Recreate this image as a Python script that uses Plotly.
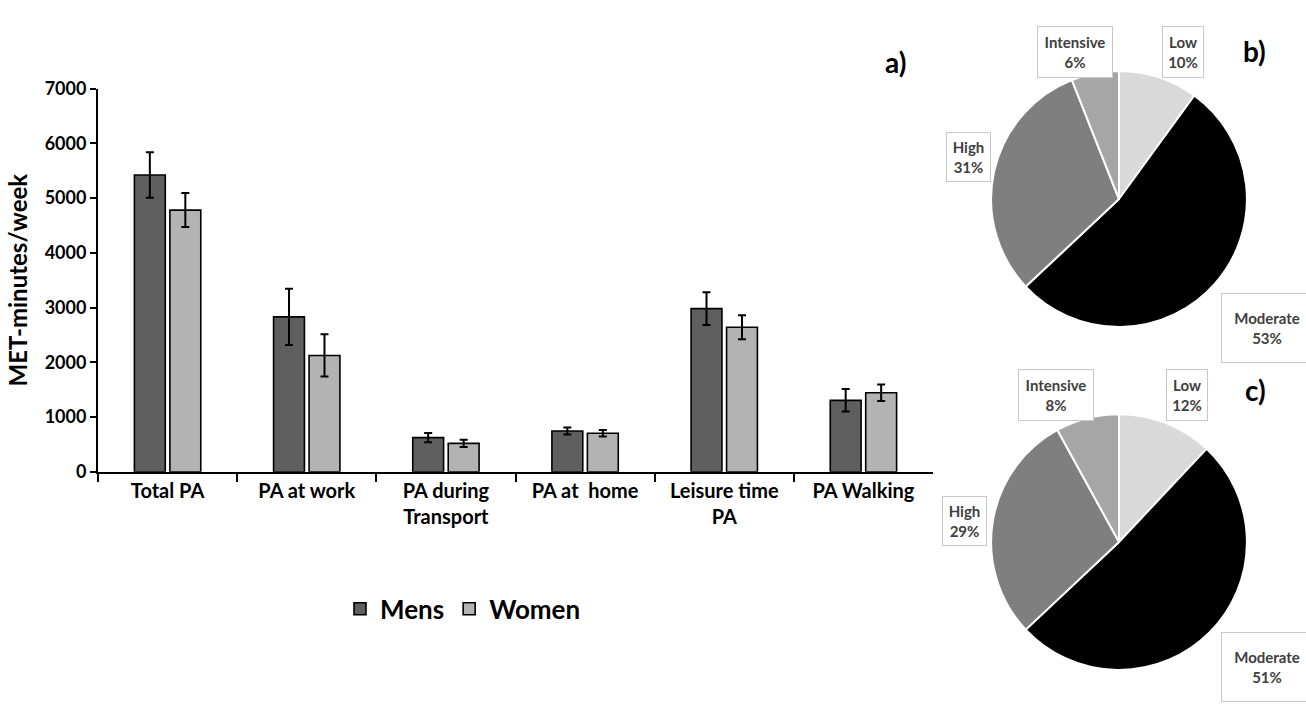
import plotly.graph_objects as go

# --- Bar panel a): MET-minutes/week by domain and sex ---
categories = ["Total PA", "PA at work", "PA during<br>Transport",
              "PA at\u00a0 home", "Leisure time<br>PA", "PA Walking"]
mens = [5420, 2830, 625, 745, 2980, 1305]
mens_err = [415, 515, 85, 65, 300, 205]
women = [4780, 2125, 520, 705, 2640, 1445]
women_err = [310, 385, 65, 60, 220, 150]

# --- Pie panels b) and c): activity level shares ---
levels = ["Low", "Moderate", "High", "Intensive"]
share_b = [10, 53, 31, 6]
share_c = [12, 51, 29, 8]
level_colors = ["#d9d9d9", "#000000", "#7f7f7f", "#a6a6a6"]

FONT = "Lato, 'Open Sans', sans-serif"
W, H = 1306, 710


def px_x(x):
    return x / W


def px_y(y):
    return (H - y) / H


fig = go.Figure()

fig.add_trace(go.Bar(
    name="Mens", x=categories, y=mens,
    marker=dict(color="#5f5f5f", line=dict(color="black", width=1.6)),
    error_y=dict(type="data", array=mens_err, color="black", thickness=2, width=4),
))
fig.add_trace(go.Bar(
    name="Women", x=categories, y=women,
    marker=dict(color="#b3b3b3", line=dict(color="black", width=1.6)),
    error_y=dict(type="data", array=women_err, color="black", thickness=2, width=4),
))

# pie centres / radius in pixels
R = 132
pie_specs = [(share_b, 1119, 193), (share_c, 1119, 547)]
for vals, cx, cy in pie_specs:
    fig.add_trace(go.Pie(
        labels=levels, values=vals, sort=False, direction="clockwise", rotation=0,
        marker=dict(colors=level_colors, line=dict(color="white", width=2)),
        textinfo="none", hoverinfo="label+percent", showlegend=False,
        domain=dict(x=[px_x(cx - R), px_x(cx + R)], y=[px_y(cy + R), px_y(cy - R)]),
    ))

annotations = []

# boxed slice labels: (centre x, centre y, box text width, box text height) in px
box_w = {"Low": 34, "Moderate": 84, "High": 37, "Intensive": 68}
box_h = {"Low": 44, "Moderate": 62, "High": 42, "Intensive": 44}
label_pos_b = [(1183, 41), (1267, 326), (968, 150), (1075, 41)]
label_pos_c = [(1187, 395), (1267, 676), (964, 525), (1056, 395)]
for vals, positions in [(share_b, label_pos_b), (share_c, label_pos_c)]:
    for name, v, (lx, ly) in zip(levels, vals, positions):
        annotations.append(dict(
            x=px_x(lx), y=px_y(ly), xref="paper", yref="paper",
            text=f"<b>{name}</b><br><b>{v}%</b>", showarrow=False,
            font=dict(family=FONT, size=15, color="#404040"),
            bgcolor="white", bordercolor="#c8c8c8", borderwidth=1, borderpad=3,
            width=box_w[name], height=box_h[name], align="center", valign="middle",
            xanchor="center", yanchor="middle",
        ))

# panel letters
for txt, lx, ly in [("a)", 895, 52), ("b)", 1254, 40), ("c)", 1255, 390)]:
    annotations.append(dict(
        x=px_x(lx), y=px_y(ly), xref="paper", yref="paper", text=f"<b>{txt}</b>",
        showarrow=False, font=dict(family=FONT, size=28, color="black"),
        xanchor="center", yanchor="middle",
    ))

fig.update_layout(
    width=W, height=H,
    margin=dict(l=0, r=0, t=0, b=0),
    paper_bgcolor="white", plot_bgcolor="white",
    barmode="group", bargap=0.49, bargroupgap=0.13,
    font=dict(family=FONT, color="black"),
    xaxis=dict(
        domain=[px_x(98), px_x(933)], type="category",
        tickson="boundaries", ticks="outside", ticklen=8, tickwidth=2, tickcolor="black",
        showline=True, linecolor="black", linewidth=2, showgrid=False,
        tickfont=dict(family=FONT, size=20, color="black", weight="bold"),
    ),
    yaxis=dict(
        domain=[px_y(474.5), px_y(79)], range=[0, 7000], dtick=1000,
        ticks="outside", ticklen=6, tickwidth=2, tickcolor="black",
        showline=True, linecolor="black", linewidth=2, showgrid=False, zeroline=False,
        tickfont=dict(family=FONT, size=18, color="black", weight="bold"),
        title=dict(text="MET-minutes/week", standoff=10,
                   font=dict(family=FONT, size=24, color="black", weight="bold")),
    ),
    legend=dict(
        orientation="h", x=px_x(463), y=px_y(616), xanchor="center", yanchor="middle",
        font=dict(family=FONT, size=26, color="black", weight="bold"),
        itemwidth=30, traceorder="normal",
    ),
    annotations=annotations,
)

fig.write_html("out.html")
